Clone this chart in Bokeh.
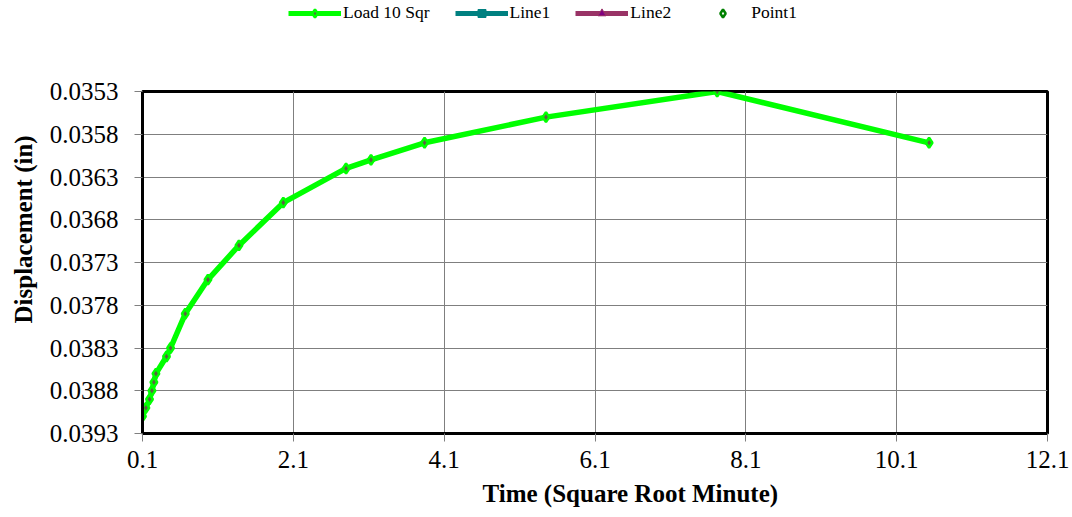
from bokeh.plotting import figure
from bokeh.layouts import column
from bokeh.models import (Range1d, FixedTicker, NumeralTickFormatter, Legend, LegendItem, Title)
from bokeh.embed import file_html
from bokeh.resources import INLINE

# ---- data ----
time_sqrt = [0.1, 0.145, 0.193, 0.225, 0.251, 0.278, 0.418, 0.472, 0.667, 0.968,
             1.379, 1.967, 2.799, 3.13, 3.84, 5.45, 7.72, 10.53]
displacement = [0.0391, 0.0390, 0.0389, 0.0388, 0.0387, 0.0386, 0.0384, 0.0383, 0.0379, 0.0375,
                0.0371, 0.0366, 0.0362, 0.0361, 0.0359, 0.0356, 0.0353, 0.0359]
x_ticks = [0.1, 2.1, 4.1, 6.1, 8.1, 10.1, 12.1]
y_ticks = [0.0353, 0.0358, 0.0363, 0.0368, 0.0373, 0.0378, 0.0383, 0.0388, 0.0393]
series_names = ["Load 10 Sqr", "Line1", "Line2", "Point1"]
x_title = "Time (Square Root Minute)"
y_title = "Displacement (in)"
# the legend-only series (Line1, Line2, Point1) have no visible data; a single
# placeholder point outside the strip's range lets their legend swatches draw
placeholder_x = [-5]
placeholder_y = [-5]

FONT = "Liberation Serif"
TOTAL_W = 1072
TOTAL_H = 517
LEG_H = 26

# ---- legend strip ----
lg = figure(width=TOTAL_W, height=LEG_H, output_backend="svg", toolbar_location=None,
            x_range=Range1d(0, 1), y_range=Range1d(0, 1),
            min_border_left=0, min_border_right=0, min_border_top=0, min_border_bottom=0)
lg.axis.visible = False
lg.grid.visible = False
lg.outline_line_color = None

g_line = lg.line(placeholder_x, placeholder_y, line_color="#00ff00", line_width=5)
g_pts = lg.scatter(placeholder_x, placeholder_y, marker="diamond", size=10, fill_color="#5f5f45",
                   line_color="#00ff00", line_width=2.5)
g_l1 = lg.line(placeholder_x, placeholder_y, line_color="#008080", line_width=5)
g_l1m = lg.scatter(placeholder_x, placeholder_y, marker="square", size=10,
                   fill_color="#008080", line_color="#008080")
g_l2 = lg.line(placeholder_x, placeholder_y, line_color="#993366", line_width=5)
g_l2m = lg.scatter(placeholder_x, placeholder_y, marker="triangle", size=9,
                   fill_color="#800080", line_color="#993366")
g_p1 = lg.scatter(placeholder_x, placeholder_y, marker="diamond", size=10, fill_color="white",
                  line_color="#008000", line_width=2.5)

legend = Legend(items=[
    LegendItem(label=series_names[0], renderers=[g_line, g_pts]),
    LegendItem(label=series_names[1], renderers=[g_l1, g_l1m]),
    LegendItem(label=series_names[2], renderers=[g_l2, g_l2m]),
    LegendItem(label=series_names[3], renderers=[g_p1]),
], orientation="horizontal", location=(146, 3),
    glyph_width=53, glyph_height=20, label_standoff=2, spacing=25,
    padding=0, margin=0, border_line_alpha=0, background_fill_alpha=0, label_height=20)
legend.label_text_font = FONT
legend.label_text_font_size = "17.5px"
legend.label_text_color = "black"
lg.add_layout(legend, "center")

# ---- main chart ----
p = figure(width=TOTAL_W, height=TOTAL_H - LEG_H, output_backend="svg", toolbar_location=None,
           x_range=Range1d(x_ticks[0], x_ticks[-1]),
           y_range=Range1d(y_ticks[-1], y_ticks[0]),
           min_border_left=142, min_border_right=25, min_border_top=91 - LEG_H,
           min_border_bottom=84)

p.outline_line_color = "black"
p.outline_line_width = 3
p.background_fill_color = "white"
p.border_fill_color = "white"

for ax in (p.xaxis[0], p.yaxis[0]):
    ax.axis_line_color = "black"
    ax.axis_line_width = 3
    ax.major_tick_line_color = "#808080"
    ax.major_tick_line_width = 1
    ax.major_tick_out = 8
    ax.major_tick_in = 0
    ax.minor_tick_line_color = None
    ax.major_label_text_font = FONT
    ax.major_label_text_font_size = "25px"
    ax.major_label_text_color = "black"

p.xaxis[0].ticker = FixedTicker(ticks=x_ticks)
p.yaxis[0].ticker = FixedTicker(ticks=y_ticks)
p.xaxis[0].formatter = NumeralTickFormatter(format="0.0")
p.yaxis[0].formatter = NumeralTickFormatter(format="0.0000")
p.xaxis[0].major_label_standoff = 9
p.yaxis[0].major_label_standoff = 16

p.xgrid[0].ticker = FixedTicker(ticks=x_ticks)
p.ygrid[0].ticker = FixedTicker(ticks=y_ticks)
for g in (p.xgrid[0], p.ygrid[0]):
    g.grid_line_color = "#7f7f7f"
    g.grid_line_width = 1

p.line(time_sqrt, displacement, line_color="#00ff00", line_width=5.5)
p.scatter(time_sqrt, displacement, marker="diamond", size=10,
          fill_color="#5f5f45", line_color="#00ff00", line_width=2.5)

p.add_layout(Title(text=x_title, align="left", offset=340, standoff=14,
                   text_font=FONT, text_font_size="25px", text_font_style="bold",
                   text_color="black"), "below")
p.add_layout(Title(text=y_title, align="left", offset=110, standoff=17,
                   vertical_align="middle",
                   text_font=FONT, text_font_size="25px", text_font_style="bold",
                   text_color="black"), "left")

open("out.html", "w").write(file_html(column(lg, p), INLINE))
